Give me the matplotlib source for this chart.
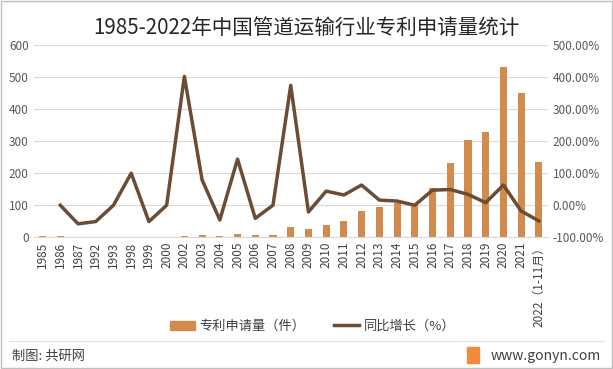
import matplotlib
matplotlib.use("Agg")
import matplotlib.pyplot as plt
from matplotlib.patches import Rectangle
from matplotlib.lines import Line2D
from matplotlib.ticker import FuncFormatter

plt.rcParams['font.family'] = ['Noto Sans CJK SC', 'DejaVu Sans']

years = ["1985", "1986", "1987", "1992", "1993", "1998", "1999", "2000", "2002", "2003",
         "2004", "2005", "2006", "2007", "2008", "2009", "2010", "2011", "2012", "2013",
         "2014", "2015", "2016", "2017", "2018", "2019", "2020", "2021", "2022（1-11月）"]
patents = [4, 4, 2, 1, 1, 2, 1, 1, 5, 7,
           4, 11, 7, 7, 33, 26, 38, 51, 82, 95,
           108, 101, 154, 232, 304, 329, 531, 451, 235]
growth = [None, 0, -58, -51, 0, 100, -51, 0, 402, 79,
          -46, 144, -41, 0, 374, -21, 44, 32, 63, 16,
          13, 0, 47, 49, 34, 8, 63, -18, -49]

bar_color = "#D38B4D"
line_color = "#6B4C35"

fig = plt.figure(figsize=(6.13, 3.69), dpi=100)
ax = fig.add_axes([0.055, 0.357, 0.8385, 0.521])
x = list(range(len(years)))
ax.bar(x, patents, width=0.4, color=bar_color, zorder=2)
ax.set_ylim(0, 600)
ax.set_yticks(range(0, 601, 100))
ax.set_xlim(-0.5, len(years) - 0.5)
ax.set_xticks(x)
ax.set_xticklabels(years, rotation=90, fontsize=8.5, color="#404040")
ax.tick_params(axis='y', labelsize=8.5, colors="#595959", length=0)
ax.tick_params(axis='x', length=0, pad=3)
ax.grid(axis='y', color="#D9D9D9", linewidth=0.8, zorder=0)
for s in ['top', 'right', 'left']:
    ax.spines[s].set_visible(False)
ax.spines['bottom'].set_color("#D9D9D9")

ax2 = ax.twinx()
gx = [i for i, g in zip(x, growth) if g is not None]
gy = [g for g in growth if g is not None]
ax2.plot(gx, gy, color=line_color, linewidth=2.5, zorder=3)
ax2.set_ylim(-100, 500)
ax2.set_yticks(range(-100, 501, 100))
ax2.yaxis.set_major_formatter(FuncFormatter(lambda v, p: f"{v:.2f}%"))
ax2.tick_params(axis='y', labelsize=8.5, colors="#595959", length=0)
for s in ['top', 'right', 'left', 'bottom']:
    ax2.spines[s].set_visible(False)

fig.text(0.5, 0.924, "1985-2022年中国管道运输行业专利申请量统计", ha='center', va='center',
         fontsize=14.8, color="#262626")

handles = [Rectangle((0, 0), 1, 1, color=bar_color),
           Line2D([0], [0], color=line_color, linewidth=2.5)]
fig.legend(handles, ["专利申请量（件）", "同比增长（%）"], loc='center', bbox_to_anchor=(0.51, 0.115),
           ncol=2, frameon=False, fontsize=9.5, handlelength=1.9, columnspacing=2.2,
           handletextpad=0.3, labelcolor="#404040")

fig.add_artist(Line2D([0.015, 0.985], [0.075, 0.075], color="#E0E0E0", linewidth=0.8))
fig.text(0.02, 0.035, "制图: 共研网", ha='left', va='center', fontsize=9.5, color="#404040")
fig.text(0.98, 0.035, "www.gonyn.com", ha='right', va='center', fontsize=10, color="#404040")
fig.add_artist(Rectangle((0.762, 0.015), 0.02, 0.045, color="#F08A3C", transform=fig.transFigure))
fig.add_artist(Rectangle((0.002, 0.002), 0.996, 0.996, fill=False, edgecolor="#BFBFBF",
                         linewidth=1.0, transform=fig.transFigure))

fig.savefig("out.png", dpi=100)
